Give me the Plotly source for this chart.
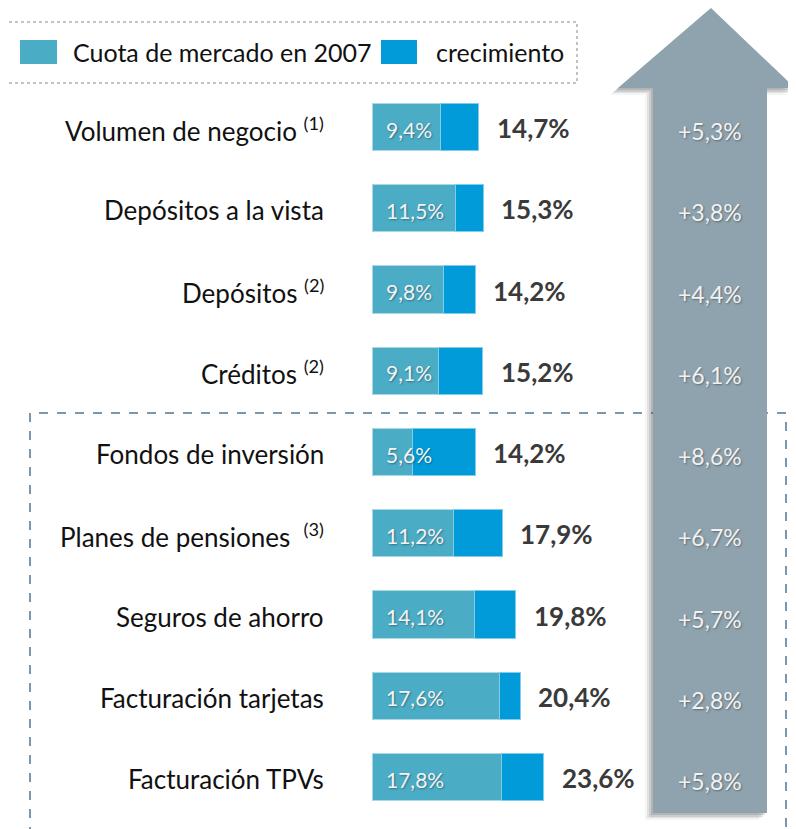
import plotly.graph_objects as go

categories = ["Volumen de negocio", "Depósitos a la vista", "Depósitos", "Créditos",
              "Fondos de inversión", "Planes de pensiones", "Seguros de ahorro",
              "Facturación tarjetas", "Facturación TPVs"]
label_text = ["Volumen de negocio <sup>(1)</sup>", "Depósitos a la vista", "Depósitos <sup>(2)</sup>",
              "Créditos <sup>(2)</sup>", "Fondos de inversión", "Planes de pensiones  <sup>(3)</sup>",
              "Seguros de ahorro", "Facturación tarjetas", "Facturación TPVs"]
cuota_2007 = [9.4, 11.5, 9.8, 9.1, 5.6, 11.2, 14.1, 17.6, 17.8]
crecimiento = [5.3, 3.8, 4.4, 6.1, 8.6, 6.7, 5.7, 2.8, 5.8]
totales = [14.7, 15.3, 14.2, 15.2, 14.2, 17.9, 19.8, 20.4, 23.6]

# page body has an 8px margin: figure is placed at (8, 8) on screen
OFF = 8
W, H = 796 - OFF, 829 - OFF
BASE_C = "#4BACC6"
GROW_C = "#009BD8"
FONT = "Lato"
PX_PER_UNIT = 7.27
ROW_PX = 81.25
X0_SCREEN = 372
ROW0_SCREEN = 127

def fmt(v):
    return f"{v:.1f}".replace(".", ",") + "%"

def px2x(px):  # screen px -> paper
    return (px - OFF) / W

def py2y(py):
    return 1 - (py - OFF) / H

fig = go.Figure()
fig.add_trace(go.Bar(y=categories, x=cuota_2007, orientation="h", width=0.58,
                     marker=dict(color=BASE_C, line=dict(color="#A9D8E6", width=1)),
                     name="Cuota de mercado en 2007", hoverinfo="skip"))
fig.add_trace(go.Bar(y=categories, x=crecimiento, orientation="h", width=0.58,
                     marker=dict(color=GROW_C, line=dict(color="#7FCDEB", width=1)),
                     name="crecimiento", hoverinfo="skip"))

shapes = []
# dashed box (lower group)
shapes.append(dict(type="rect", xref="paper", yref="paper",
                   x0=px2x(30), x1=px2x(786), y0=py2y(845), y1=py2y(413),
                   line=dict(color="#7C97AC", width=2, dash="dash"), layer="above"))
# arrow shadow and arrow
arrow_pts = [(711, 8), (795, 88), (767, 88), (767, 813), (653, 813), (653, 88), (618, 88)]

def path(pts, dx=0, dy=0):
    return "M " + " L ".join(f"{px2x(x+dx):.5f},{py2y(y+dy):.5f}" for x, y in pts) + " Z"

for dx, dy, op in [(-8, 7, 0.06), (-6, 5, 0.10), (-4, 4, 0.14), (-2, 2, 0.18)]:
    shapes.append(dict(type="path", xref="paper", yref="paper", path=path(arrow_pts, dx, dy),
                       fillcolor=f"rgba(70,70,70,{op})", line=dict(width=0), layer="above"))
shapes.append(dict(type="path", xref="paper", yref="paper", path=path(arrow_pts),
                   fillcolor="#8FA3AE", line=dict(width=0), layer="above"))
# legend box and swatches
shapes.append(dict(type="rect", xref="paper", yref="paper",
                   x0=px2x(3), x1=px2x(577), y0=py2y(83), y1=py2y(22),
                   line=dict(color="#B0B0B0", width=1.5, dash="dot")))
shapes.append(dict(type="rect", xref="paper", yref="paper",
                   x0=px2x(20), x1=px2x(57), y0=py2y(64), y1=py2y(40),
                   fillcolor=BASE_C, line=dict(width=0)))
shapes.append(dict(type="rect", xref="paper", yref="paper",
                   x0=px2x(381), x1=px2x(417), y0=py2y(64), y1=py2y(40),
                   fillcolor=GROW_C, line=dict(width=0)))

ann = []
ann.append(dict(xref="paper", yref="paper", x=px2x(71), y=py2y(52), xanchor="left", yanchor="middle",
                text="Cuota de mercado en 2007", showarrow=False,
                font=dict(family=FONT, size=25, color="#111111")))
ann.append(dict(xref="paper", yref="paper", x=px2x(434), y=py2y(52), xanchor="left", yanchor="middle",
                text="crecimiento", showarrow=False,
                font=dict(family=FONT, size=25, color="#111111")))

for cat, lab, b, g, t in zip(categories, label_text, cuota_2007, crecimiento, totales):
    ann.append(dict(x=0, y=cat, xref="x", yref="y", xanchor="right", yanchor="middle", xshift=-46, yshift=-2,
                    text=lab, showarrow=False, font=dict(family=FONT, size=26, color="#111111")))
    ann.append(dict(x=0, y=cat, xref="x", yref="y", xanchor="left", yanchor="middle", xshift=12, yshift=-2,
                    text=fmt(b), showarrow=False,
                    font=dict(family=FONT, size=21, color="#F4F4F4", shadow="1px 1px 2px rgba(0,0,0,0.35)")))
    ann.append(dict(x=t, y=cat, xref="x", yref="y", xanchor="left", yanchor="middle", xshift=16, yshift=-1,
                    text=f"<b>{fmt(t)}</b>", showarrow=False,
                    font=dict(family=FONT, size=26, color="#3A3A3A")))
    ann.append(dict(x=px2x(710), y=cat, xref="paper", yref="y", xanchor="center", yanchor="middle", yshift=-4,
                    text="+" + fmt(g), showarrow=False,
                    font=dict(family=FONT, size=23, color="#F2F2F2", shadow="1px 1px 2px rgba(0,0,0,0.35)")))

x_left = -(X0_SCREEN - OFF) / PX_PER_UNIT
x_right = (W - (X0_SCREEN - OFF)) / PX_PER_UNIT
r0 = ROW0_SCREEN - OFF
fig.update_layout(
    width=W, height=H, margin=dict(l=0, r=0, t=0, b=0),
    paper_bgcolor="white", plot_bgcolor="white",
    barmode="stack", showlegend=False,
    xaxis=dict(range=[x_left, x_right], visible=False, fixedrange=True),
    yaxis=dict(type="category", categoryorder="array", categoryarray=categories,
               range=[(H - r0) / ROW_PX, -r0 / ROW_PX], visible=False, fixedrange=True),
    shapes=shapes, annotations=ann,
)
fig.write_html("out.html")
